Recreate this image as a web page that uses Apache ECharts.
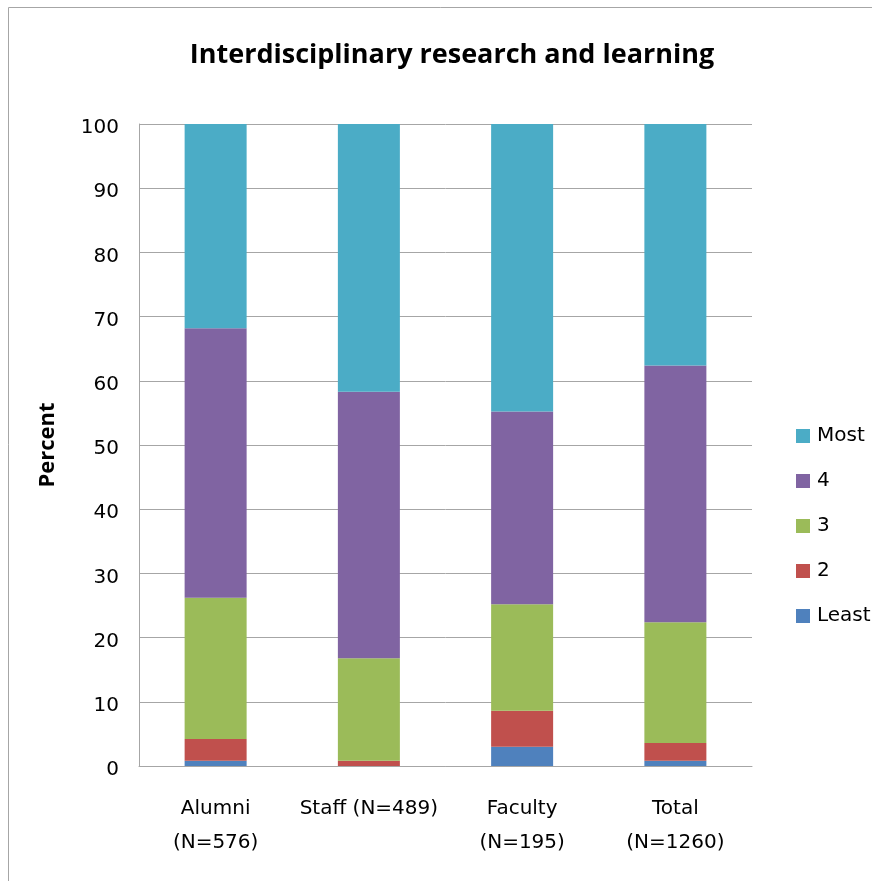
<!DOCTYPE html>
<html>
<head>
<meta charset="utf-8">
<script src="https://cdn.jsdelivr.net/npm/echarts@6/dist/echarts.min.js"></script>
<style>
html,body{margin:0;padding:0;background:#fff;}
#chart{width:872px;height:881px;}
</style>
</head>
<body>
<div id="chart"></div>
<script>
var categories = ['Alumni\n(N=576)', 'Staff (N=489)', 'Faculty\n(N=195)', 'Total\n(N=1260)'];
var least = [0.8, 0, 3.0, 0.8];
var two = [3.4, 0.8, 5.6, 2.8];
var three = [22.0, 16.0, 16.6, 18.8];
var four = [42.0, 41.5, 30.0, 40.0];
var most = [31.8, 41.7, 44.8, 37.6];
var yTicks = [0, 10, 20, 30, 40, 50, 60, 70, 80, 90, 100];

var font = 'DejaVu Sans';
var chart = echarts.init(document.getElementById('chart'));
function s(name, data, color) {
  return { name: name, type: 'bar', stack: 'all', data: data, barWidth: 62,
    itemStyle: { color: color }, emphasis: { disabled: true } };
}
chart.setOption({
  animation: false,
  graphic: [{ type: 'rect', shape: { x: 8.5, y: 7.5, width: 900, height: 900 },
    style: { fill: 'none', stroke: '#a6a6a6', lineWidth: 1 } }],
  title: { text: 'Interdisciplinary research and learning', left: 447, top: 37, textAlign: 'center',
    textStyle: { fontFamily: 'Open Sans', fontWeight: 'bold', fontSize: 27, color: '#000' } },
  grid: { left: 139, right: 120, top: 124, bottom: 115, containLabel: false },
  legend: {
    orient: 'vertical', left: 791, top: 421, itemWidth: 14, itemHeight: 14, itemGap: 25,
    icon: 'rect', data: ['Most', '4', '3', '2', 'Least'],
    textStyle: { fontFamily: font, fontSize: 20, color: '#000', padding: [0, 0, 0, 2] }
  },
  xAxis: {
    type: 'category', data: categories,
    axisLine: { lineStyle: { color: '#a6a6a6', width: 1 } },
    axisTick: { show: false },
    axisLabel: { interval: 0, margin: 26, lineHeight: 34, fontFamily: font, fontSize: 20, color: '#000' }
  },
  yAxis: {
    type: 'value', min: yTicks[0], max: yTicks[yTicks.length - 1], interval: 10,
    name: 'Percent', nameLocation: 'middle', nameGap: 80, nameRotate: 90,
    nameTextStyle: { fontFamily: 'Open Sans', fontWeight: 'bold', fontSize: 22, color: '#000' },
    axisLine: { show: true, lineStyle: { color: '#a6a6a6', width: 1 } },
    axisTick: { show: false },
    splitLine: { lineStyle: { color: '#a6a6a6', width: 1 } },
    axisLabel: { margin: 20, fontFamily: font, fontSize: 20, color: '#000', verticalAlign: 'top', lineHeight: 8 }
  },
  series: [
    s('Least', least, '#4F81BD'),
    s('2', two, '#C0504D'),
    s('3', three, '#9BBB59'),
    s('4', four, '#8064A2'),
    s('Most', most, '#4BACC6')
  ]
});
</script>
</body>
</html>
